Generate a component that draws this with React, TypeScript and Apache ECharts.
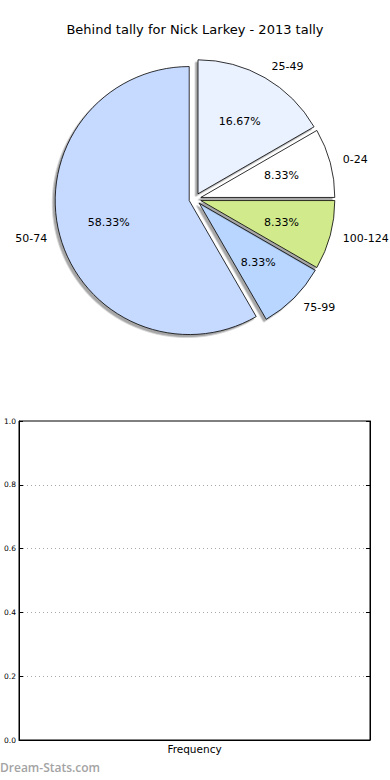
import React, { useEffect, useRef } from 'react';
import * as echarts from 'echarts';

const titleText = 'Behind tally for Nick Larkey - 2013 tally';
const categories = ['0-24', '25-49', '50-74', '75-99', '100-124'];
const counts = [1, 2, 7, 1, 1];
const sliceColors = ['#ffffff', '#ebf2ff', '#c6d9ff', '#b8d6ff', '#d1eb8c'];
const yTicks = [0, 0.2, 0.4, 0.6, 0.8, 1.0];
const xAxisName = 'Frequency';
const watermark = 'Dream-Stats.com';

export default function App() {
  const ref = useRef<HTMLDivElement>(null);
  useEffect(() => {
    const chart = echarts.init(ref.current!, null, { renderer: 'svg' });
    const total = counts.reduce((a, b) => a + b, 0);
    const font = 'DejaVu Sans';
    const R = 134;
    const center = [195, 199];
    const pieData = categories.map((name, i) => ({
      name,
      value: counts[i],
      selected: true,
      itemStyle: { color: sliceColors[i] },
    }));
    const pctData = categories.map((name, i) => ({ name, value: counts[i], selected: true }));
    const yMin = yTicks[0];
    const yMax = yTicks[yTicks.length - 1];
    const yInt = yTicks[1] - yTicks[0];
    chart.setOption({
      animation: false,
      backgroundColor: '#ffffff',
      title: {
        text: titleText,
        left: 'center',
        top: 23,
        padding: 0,
        textStyle: { fontFamily: font, fontSize: 13, fontWeight: 'normal', color: '#000' },
      },
      grid: {
        left: 19,
        right: 20,
        top: 421,
        bottom: 40,
        show: true,
        borderColor: '#000',
        borderWidth: 1,
        backgroundColor: 'transparent',
      },
      xAxis: {
        type: 'value',
        min: 0,
        max: 1,
        axisLine: { show: true, lineStyle: { color: '#000', width: 1 } },
        axisTick: { show: false },
        axisLabel: { show: false },
        splitLine: { show: false },
        name: xAxisName,
        nameLocation: 'middle',
        nameGap: 3,
        nameTextStyle: { fontFamily: font, fontSize: 10.5, color: '#000', verticalAlign: 'top' },
      },
      yAxis: [
        {
          type: 'value',
          min: yMin,
          max: yMax,
          interval: yInt,
          axisLine: { show: true, lineStyle: { color: '#000', width: 1 } },
          axisTick: { show: true, inside: true, length: 4, lineStyle: { color: '#000' } },
          axisLabel: {
            formatter: (v: number) => v.toFixed(1),
            fontFamily: font,
            fontSize: 7.5,
            color: '#000',
            margin: 3,
          },
          splitLine: {
            show: true,
            showMinLine: false,
            showMaxLine: false,
            lineStyle: { type: [1, 3], color: '#a8a8a8', width: 1 },
          },
        },
        {
          type: 'value',
          position: 'right',
          min: yMin,
          max: yMax,
          interval: yInt,
          axisLine: { show: true, lineStyle: { color: '#000', width: 1 } },
          axisTick: { show: true, inside: true, length: 4, lineStyle: { color: '#000' } },
          axisLabel: { show: false },
          splitLine: { show: false },
        },
      ],
      graphic: [
        {
          type: 'text',
          left: 0,
          top: 761,
          style: { text: watermark, fill: '#a3a3a3', font: '600 12px "Open Sans"' },
        },
      ],
      series: [
        {
          type: 'pie',
          center,
          radius: R,
          startAngle: 0,
          clockwise: false,
          selectedMode: 'multiple',
          selectedOffset: 6,
          avoidLabelOverlap: false,
          silent: true,
          emphasis: { disabled: true },
          data: pieData,
          itemStyle: {
            borderColor: '#000',
            borderWidth: 0.8,
            shadowColor: 'rgba(0,0,0,0.35)',
            shadowOffsetX: -2.5,
            shadowOffsetY: 2.5,
            shadowBlur: 0,
          },
          label: {
            show: true,
            position: 'outside',
            formatter: '{b}',
            fontFamily: font,
            fontSize: 11,
            color: '#000',
            distanceToLabelLine: 0,
          },
          labelLine: { show: false, length: 13, length2: 0 },
          z: 2,
        },
        {
          type: 'pie',
          center,
          radius: [R * 0.2, R],
          startAngle: 0,
          clockwise: false,
          selectedMode: 'multiple',
          selectedOffset: 6,
          avoidLabelOverlap: false,
          silent: true,
          emphasis: { disabled: true },
          data: pctData,
          itemStyle: { color: 'rgba(0,0,0,0)', borderWidth: 0 },
          label: {
            show: true,
            position: 'inside',
            formatter: (p: any) => ((p.value / total) * 100).toFixed(2) + '%',
            fontFamily: font,
            fontSize: 11,
            color: '#000',
          },
          labelLine: { show: false },
          z: 3,
        },
      ],
    });
    return () => chart.dispose();
  }, []);
  return (
    <div
      ref={ref}
      style={{ position: 'absolute', left: 0, top: 0, width: 390, height: 780, background: '#fff' }}
    />
  );
}
